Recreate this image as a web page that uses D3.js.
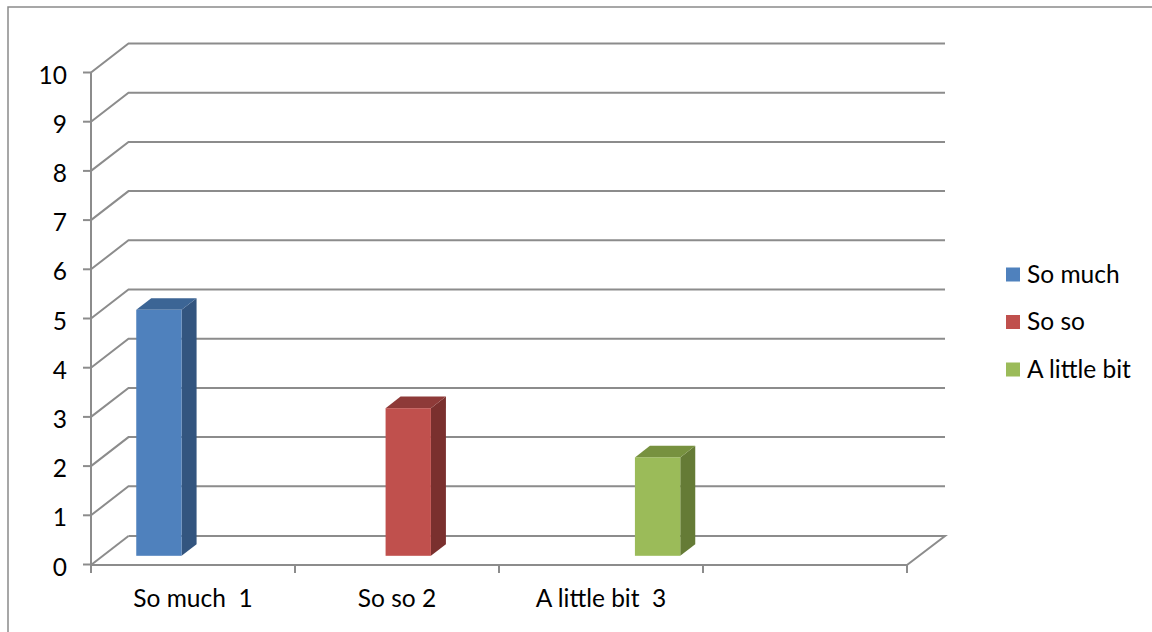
<!DOCTYPE html>
<html><head><meta charset="utf-8">
<script src="https://cdn.jsdelivr.net/npm/d3@7"></script>
<style>html,body{margin:0;padding:0;background:#fff;}svg{display:block;}</style>
</head><body>
<svg id="c" width="1152" height="632"></svg>
<script>
const categories = ["So much  1", "So so 2", "A little bit  3", ""];
const seriesNames = ["So much", "So so", "A little bit"];
const seriesValues = [
  [5, null, null, null],
  [null, 3, null, null],
  [null, null, 2, null]
];
const yTicks = [0,1,2,3,4,5,6,7,8,9,10];
const frontColors = ["#4F81BD", "#C0504D", "#9BBB59"];
const topColors = ["#3C6595", "#8E3A38", "#77913F"];
const sideColors = ["#33557F", "#7A302E", "#657B36"];

const svg = d3.select("#c");
const font = "Lato, 'Open Sans', sans-serif";
const fs = 24.5;

// outer border
svg.append("rect").attr("x", 8).attr("y", 7).attr("width", 1160).attr("height", 640)
  .attr("fill", "none").attr("stroke", "#8a8a8a").attr("stroke-width", 1.5);

const y = d3.scaleLinear().domain([0, 10]).range([564.5, 72.5]);
const x = d3.scaleBand().domain(d3.range(categories.length)).range([91, 907]).padding(0);
const inner = d3.scaleBand().domain(d3.range(seriesNames.length)).range([0, x.bandwidth()])
  .paddingInner(0).paddingOuter(0.75);
const DX = 37.5, DY = -29; // depth offset of back wall
const f0 = 0.3, f1 = 0.7;  // bar depth fractions

const gridColor = "#8c8c8c";
const g = svg.append("g").attr("fill", "none").attr("stroke", gridColor).attr("stroke-width", 2);

// back-wall gridlines
yTicks.forEach(v => {
  const yy = y(v);
  if (v === 0) return;
  g.append("path").attr("d", d3.line()([[x.range()[0], yy], [x.range()[0] + DX, yy + DY], [945, yy + DY]]));
});
// floor
const y0 = y(0) + 0.5;
g.append("path").attr("d", d3.line()([[91 + DX, y0 + DY], [945, y0 + DY], [907, y0]]));
g.append("path").attr("d", d3.line()([[91, y0], [91 + DX, y0 + DY]]));
g.append("path").attr("d", d3.line()([[91, y0], [907, y0]]));
// vertical axis
g.append("path").attr("d", d3.line()([[91, y(10)], [91, y0]]));
// y ticks
yTicks.forEach(v => {
  g.append("path").attr("d", d3.line()([[83, y(v)], [91, y(v)]]));
});
// x ticks
d3.range(categories.length + 1).forEach(i => {
  const xx = i < categories.length ? x(i) : x.range()[1];
  g.append("path").attr("d", d3.line()([[xx, y0], [xx, y0 + 8]]));
});

// y labels
svg.append("g").selectAll("text").data(yTicks).join("text")
  .attr("x", 67).attr("y", d => y(d) + 1.5)
  .attr("text-anchor", "end").attr("dominant-baseline", "central")
  .attr("font-family", font).attr("font-size", fs).attr("fill", "#000")
  .text(d => d);

// x labels
svg.append("g").selectAll("text").data(categories).join("text")
  .attr("x", (d, i) => x(i) + x.bandwidth() / 2).attr("y", 607)
  .attr("text-anchor", "middle")
  .attr("font-family", font).attr("font-size", fs).attr("fill", "#000")
  .style("white-space", "pre")
  .text(d => d);

// bars
const bars = svg.append("g");
seriesValues.forEach((vals, s) => {
  vals.forEach((v, c) => {
    if (v == null) return;
    const xl = x(c) + inner(s), xr = xl + inner.bandwidth();
    const fx = f0 * DX, fy = f0 * DY, bx = f1 * DX, by = f1 * DY;
    const yb = y(0), yt = y(v);
    // side
    bars.append("path").attr("fill", sideColors[s])
      .attr("d", d3.line()([[xr + fx, yt + fy], [xr + bx, yt + by], [xr + bx, yb + by], [xr + fx, yb + fy]]) + "Z");
    // top
    bars.append("path").attr("fill", topColors[s])
      .attr("d", d3.line()([[xl + fx, yt + fy], [xl + bx, yt + by], [xr + bx, yt + by], [xr + fx, yt + fy]]) + "Z");
    // front
    bars.append("rect").attr("fill", frontColors[s])
      .attr("x", xl + fx).attr("y", yt + fy).attr("width", xr - xl).attr("height", yb - yt);
  });
});

// legend
const leg = svg.append("g");
const legY = d3.scalePoint().domain(seriesNames).range([274.5, 369.5]);
seriesNames.forEach((n, i) => {
  leg.append("rect").attr("x", 1006).attr("y", legY(n) - 7).attr("width", 14).attr("height", 14)
    .attr("fill", frontColors[i]);
  leg.append("text").attr("x", 1027).attr("y", legY(n) - 1.5)
    .attr("dominant-baseline", "central")
    .attr("font-family", font).attr("font-size", fs).attr("fill", "#000").text(n);
});
</script>
</body></html>
